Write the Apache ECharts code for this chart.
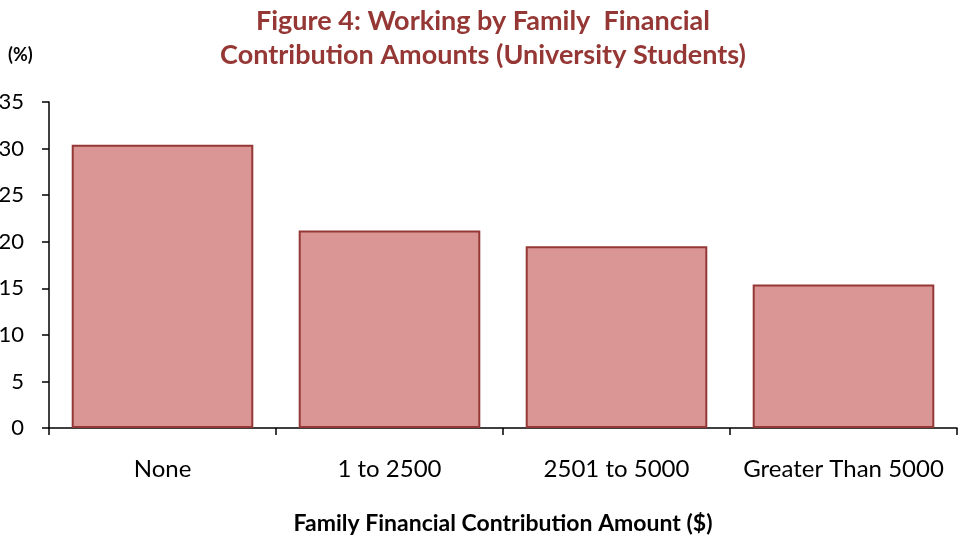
<!DOCTYPE html>
<html>
<head>
<meta charset="utf-8">
<script src="https://cdn.jsdelivr.net/npm/echarts@6/dist/echarts.min.js"></script>
<style>
  html, body { margin: 0; padding: 0; background: #fff; }
  #main { width: 958px; height: 535px; }
</style>
</head>
<body>
<div id="main"></div>
<script>
// data
var categories = ["None", "1 to 2500", "2501 to 5000", "Greater Than 5000"];
var workingPct = [30.4, 21.2, 19.5, 15.4];
var yTicks = { min: 0, max: 35, interval: 5 };

var darkRed = "#953735";
var font = "Lato, 'Open Sans', sans-serif";

var myChart = echarts.init(document.getElementById("main"));
var option = {
  animation: false,
  title: {
    text: "Figure 4: Working by Family  Financial\nContribution Amounts (University Students)",
    left: 478,
    textAlign: "center",
    top: -1,
    textStyle: {
      color: darkRed,
      fontFamily: font,
      fontWeight: "bold",
      fontSize: 27,
      lineHeight: 34
    }
  },
  graphic: [
    {
      type: "text",
      left: 8,
      top: 46,
      style: {
        text: "(%)",
        fill: "#000",
        font: "bold 18px " + font
      }
    }
  ],
  grid: {
    left: 49,
    right: 1,
    top: 102,
    height: 326,
    containLabel: false,
    outerBoundsMode: "none"
  },
  xAxis: {
    type: "category",
    data: categories,
    name: "Family Financial Contribution Amount ($)",
    nameLocation: "middle",
    nameGap: 84,
    nameMoveOverlap: false,
    nameTextStyle: {
      color: "#000",
      fontFamily: font,
      fontWeight: "bold",
      fontSize: 23
    },
    axisLine: { lineStyle: { color: "#000", width: 1.5 } },
    axisTick: { show: true, length: 7, inside: false, lineStyle: { color: "#000", width: 1.5 } },
    axisLabel: {
      color: "#000",
      fontFamily: font,
      fontSize: 24,
      margin: 29,
      interval: 0
    }
  },
  yAxis: {
    type: "value",
    min: yTicks.min,
    max: yTicks.max,
    interval: yTicks.interval,
    splitLine: { show: false },
    axisLine: { show: true, lineStyle: { color: "#000", width: 1.5 } },
    axisTick: { show: true, length: 7, lineStyle: { color: "#000", width: 1.5 } },
    axisLabel: {
      color: "#000",
      fontFamily: font,
      fontSize: 22,
      margin: 25
    }
  },
  series: [
    {
      type: "bar",
      data: workingPct,
      barCategoryGap: "20%",
      itemStyle: {
        color: "#D99694",
        borderColor: darkRed,
        borderWidth: 2
      }
    }
  ]
};
myChart.setOption(option);
</script>
</body>
</html>
